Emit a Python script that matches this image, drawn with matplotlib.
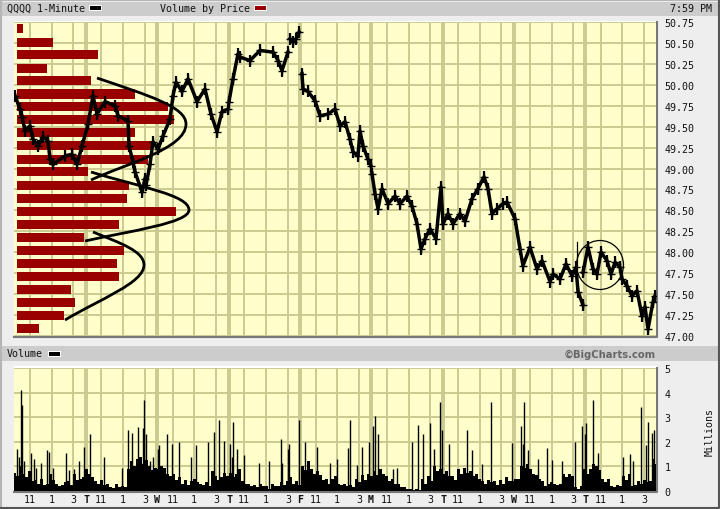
import numpy as np
import matplotlib
matplotlib.use('Agg')
import matplotlib.pyplot as plt
from matplotlib.patches import Rectangle, Ellipse, PathPatch
from matplotlib.path import Path

W, H = 720, 510
MONO = 'DejaVu Sans Mono'

# ---- data (x = chart column) ----
nan = float('nan')
price_col = [15,20,22,25,30,33,38,43,48,50,53,65,72,77,82,88,93,97,105,115,118,128,129,133,135,142,145,
             nan,146,150,153,158,163,170,173,176,182,188,197,205,211,217,222,228,
             nan,229,233,238,240,250,260,273,278,282,288,
             nan,290,293,296,299,
             nan,302,303,308,315,320,328,335,340,345,350,353,358,360,363,368,371,
             nan,372,375,378,382,388,395,400,407,412,417,421,425,430,436,441,443,448,453,460,465,472,478,484,488,492,497,503,507,515,520,523,530,537,542,550,553,560,566,572,576,578,583,
             nan,583,588,593,597,601,607,611,615,620,622,627,632,637,642,645,648,653,655]
price_val = [49.87,49.71,49.62,49.45,49.51,49.35,49.27,49.38,49.33,49.11,49.05,49.15,49.17,49.05,49.27,49.53,49.87,49.65,49.80,49.75,49.63,49.57,49.27,49.08,48.96,48.72,48.88,
             nan,48.80,49.05,49.32,49.23,49.39,49.59,49.87,50.03,49.92,50.07,49.80,49.95,49.65,49.44,49.68,49.71,
             nan,49.80,50.07,50.37,50.33,50.29,50.41,50.39,50.29,50.17,50.39,
             nan,50.55,50.51,50.55,50.63,
             nan,50.13,49.95,49.92,49.81,49.63,49.65,49.71,49.51,49.56,49.35,49.20,49.15,49.45,49.27,49.11,49.03,
             nan,48.94,48.70,48.52,48.76,48.58,48.67,48.58,48.67,48.55,48.34,48.04,48.16,48.28,48.16,48.78,48.34,48.46,48.34,48.46,48.37,48.64,48.76,48.90,48.76,48.46,48.52,48.58,48.60,48.40,48.04,47.84,48.06,47.80,47.90,47.65,47.74,47.68,47.86,47.72,47.82,47.53,47.37,
             nan,47.76,48.06,47.80,47.74,48.00,47.90,47.74,47.88,47.82,47.68,47.60,47.48,47.54,47.24,47.35,47.08,47.41,47.48]

vbp_price = [50.67,50.51,50.36,50.20,50.05,49.89,49.74,49.58,49.43,49.27,49.11,48.96,48.80,48.64,48.49,48.33,48.18,48.02,47.87,47.71,47.56,47.40,47.24,47.09]
vbp_size = [6,36,81,30,74,118,151,157,118,135,131,71,112,110,159,102,67,107,100,102,54,58,47,22]

vol_base = [.75,.6,1.0,.7,.55,.8,.4,.45,.3,.5,.25,.3,.7,.45,.3,.2,.25,.35,.4,.25,.7,.45,.5,.55,
            .9,.7,.55,.4,.3,.45,.25,.3,.15,.12,.3,.18,.22,.15,.9,1.2,1.0,1.3,1.4,1.1,1.25,1.0,.85,.95,
            .9,1.0,.95,.7,.6,.7,.45,.55,.3,.45,.25,.4,.5,.35,.3,.25,.35,.2,.8,.6,.45,.55,.75,.6,
            .75,.55,.7,.9,.4,.3,.3,.2,.25,.15,.3,.2,.2,.1,.3,.2,.2,.35,.25,.4,.55,.3,.4,.25,
            1.0,.85,1.2,.9,.7,.8,.65,.45,.5,.3,.5,.6,.3,.25,.3,.2,.25,.15,.5,.35,.65,.45,.7,.6,
            .8,.65,.9,.7,.6,.4,.5,.3,.3,.15,.15,.1,.1,.05,.1,.05,.5,.3,.6,.4,1.0,.8,.9,.7,
            .8,.6,.6,.45,.9,.7,.95,.75,.8,.6,.7,.5,.4,.3,.45,.35,.4,.25,.45,.3,.55,.4,.4,.5,
            .5,1.0,.95,1.1,.9,.7,.65,.5,.4,.2,.3,.35,.3,.25,.3,.7,.55,.7,.6,.15,.1,.2,.9,.7,
            .9,1.1,1.0,.85,.5,.35,.5,.2,.15,.25,.2,.6,.45,.7,.2,.25,.4,.3,.45,.35,.4,1.3,1.1,1.4]
vol_col = list(range(14, 14 + 3*len(vol_base), 3))
spike_col = [17,19,21,22,24,31,34,36,41,47,49,53,66,69,74,79,84,90,104,122,128,132,138,143,144,146,150,153,158,159,167,172,179,191,196,208,214,219,224,230,
             232,233,237,244,259,269,281,282,288,289,299,305,317,330,337,348,350,357,362,369,373,375,378,393,397,412,418,423,430,434,440,442,449,467,472,482,
             491,512,521,523,524,528,538,547,552,562,575,582,585,586,593,598,623,630,633,641,646,648,652,654]
spike_val = [1.7,1.4,4.1,3.5,1.2,1.55,1.3,.95,1.15,1.65,1.6,.95,1.55,.85,.9,1.2,1.8,2.3,1.4,.95,2.5,2.35,2.6,2.55,3.7,2.3,1.2,1.4,1.7,1.85,2.3,1.9,2.0,1.4,1.85,2.0,2.4,2.9,2.05,1.9,
             1.4,2.8,1.7,1.45,1.15,1.2,2.1,1.15,1.7,1.9,2.9,2.0,1.8,1.15,1.3,1.75,2.9,1.05,1.8,2.0,2.65,3.05,2.3,.9,.95,2.0,2.7,2.3,2.75,1.7,3.6,2.5,1.9,2.5,1.65,1.1,
             3.6,1.95,2.65,1.9,3.6,1.65,1.3,1.75,1.25,1.2,2.0,2.65,2.3,2.75,3.7,1.55,1.4,1.5,1.2,3.4,1.85,2.8,2.35,2.5]

day_open = [86,157,229,300,371,443,514,585]
hour_cols = [30,52,73,101,123,145,173,194,216,244,266,288,316,337,359,387,409,430,458,480,501,530,552,573,601,622,644]
tick_cols = [30,52,73,86,101,123,145,157,173,194,216,229,244,266,288,300,316,337,359,371,387,409,430,443,458,480,501,514,530,552,573,585,601,622,644]
tick_labs = ['11','1','3','T','11','1','3','W','11','1','3','T','11','1','3','F','11','1','3','M','11','1','3','T','11','1','3','W','11','1','3','T','11','1','3']
price_ticks = [47.00,47.25,47.50,47.75,48.00,48.25,48.50,48.75,49.00,49.25,49.50,49.75,50.00,50.25,50.50,50.75]
vol_ticks = [0,1,2,3,4,5]

# ---- colours ----
PAGE, STRIP, PANEL, GRID = '#eeeeee', '#cccccc', '#ffffcc', '#c9c98f'
RED, INK = '#990000', '#000000'
GRID_LW = 1.35

fig = plt.figure(figsize=(W/100, H/100), dpi=100, facecolor=PAGE)

def rect(l, t, r, b):
    return [l/W, 1-b/H, (r-l)/W, (b-t)/H]

# ---- page furniture ----
bg = fig.add_axes([0, 0, 1, 1], zorder=0)
bg.set_xlim(0, W); bg.set_ylim(H, 0); bg.axis('off')
bg.add_patch(Rectangle((2, 3), W-4, 14, fc=STRIP, ec='none'))
bg.add_patch(Rectangle((2, 347), W-4, 15, fc=STRIP, ec='none'))
bg.add_patch(Rectangle((14, 22), 643, 317, fc='#ffffff', ec='none'))
bg.add_patch(Rectangle((14, 367), 643, 127, fc='#ffffff', ec='none'))
bg.plot([0.5, 0.5, W-1], [H-1, 1, 1], color='#b5b5b5', lw=1.5)
bg.plot([1, W-1, W-1], [H-1.5, H-1.5, 1], color='#555555', lw=1.5)
bg.plot([657, 657, 14], [23, 338, 338], color='#777777', lw=1.5)
bg.plot([657, 657, 14], [369, 493, 493], color='#777777', lw=1.5)
for s, x0, y0 in [('QQQQ 1-Minute', 7, 9), ('Volume by Price', 160, 9), ('Volume', 7, 354.5)]:
    bg.text(x0, y0, s, family=MONO, fontsize=7.2, va='center', ha='left', color='#111111')
bg.text(712, 9, '7:59 PM', family=MONO, fontsize=7.2, va='center', ha='right', color='#111111')
bg.text(656, 354.5, '©BigCharts.com', family='DejaVu Sans', weight='bold', fontsize=7.2, va='center', ha='right', color='#666666')
for x0, y0, c in [(89, 9, INK), (254, 9, RED), (48, 354.5, INK)]:
    bg.add_patch(Rectangle((x0, y0-3), 13, 6, fc='white', ec='none'))
    bg.add_patch(Rectangle((x0+1, y0-2), 11, 4, fc=c, ec='none'))

def setup(ax):
    ax.set_facecolor(PANEL)
    ax.set_xlim(14, 656)
    for s in ax.spines.values():
        s.set_visible(False)
    for c in hour_cols:
        ax.axvline(c, color=GRID, lw=GRID_LW, zorder=1)
    for c in day_open:
        ax.axvline(c-1.5, color=GRID, lw=GRID_LW, zorder=1)
        ax.axvline(c+0.5, color=GRID, lw=GRID_LW, zorder=1)
    ax.yaxis.tick_right()
    ax.tick_params(axis='y', length=0, pad=6, labelsize=7.2, labelcolor='#111111')
    for t in ax.get_yticklabels():
        t.set_family(MONO)

# ---- price panel ----
ax = fig.add_axes(rect(14, 23, 656, 337), zorder=1)
ax.set_ylim(47.0, 50.75)
ax.set_yticks(price_ticks)
ax.set_yticklabels([f'{p:.2f}' for p in price_ticks])
setup(ax)
ax.set_xticks([])
for p in price_ticks:
    ax.axhline(p, color=GRID, lw=GRID_LW, zorder=1)
ax.barh(vbp_price, vbp_size, left=17, height=0.108, color=RED, zorder=2)
ax.plot(price_col, price_val, color=INK, lw=2.5, zorder=3, solid_joinstyle='round')
ax.plot(price_col, price_val, ls='none', marker='+', ms=6, mew=1.0, color=INK, zorder=3)
ax.plot(price_col, price_val, ls='none', marker='|', ms=8, mew=1.6, color=INK, zorder=3)

# ---- volume panel ----
av = fig.add_axes(rect(14, 369, 656, 492), zorder=1)
av.set_ylim(0, 5)
av.set_yticks(vol_ticks)
av.set_yticklabels([str(v) for v in vol_ticks])
setup(av)
av.set_xticks(tick_cols)
av.set_xticklabels(tick_labs, family=MONO, fontsize=7.2, color='#111111')
av.tick_params(axis='x', length=0, pad=2)
for lab, s in zip(av.get_xticklabels(), tick_labs):
    if s.isalpha():
        lab.set_fontweight('bold')
for v in vol_ticks:
    av.axhline(v, color=GRID, lw=GRID_LW, zorder=1)
av.bar(vol_col, vol_base, width=3, color=INK, zorder=2)
av.vlines(spike_col, 0, spike_val, color=INK, lw=1.0, zorder=3)

# ---- hand annotations ----
top = fig.add_axes([0, 0, 1, 1], zorder=5)
top.set_xlim(0, W); top.set_ylim(H, 0); top.axis('off'); top.patch.set_alpha(0)
C4 = Path.CURVE4
curves = [
    ([(97,79),(150,97),(186,108),(186,125),(186,150),(125,165),(91,181)], [Path.MOVETO,C4,C4,C4,C4,C4,C4]),
    ([(91,173),(140,188),(189,196),(189,211),(189,224),(130,232),(85,242)], [Path.MOVETO,C4,C4,C4,C4,C4,C4]),
    ([(93,233),(120,244),(144,252),(144,266),(144,284),(100,300),(65,321)], [Path.MOVETO,C4,C4,C4,C4,C4,C4]),
]
for verts, codes in curves:
    top.add_patch(PathPatch(Path(verts, codes), fc='none', ec=INK, lw=2.0))
top.add_patch(Ellipse((600, 266), 47, 49, fc='none', ec=INK, lw=0.9))
top.plot([577, 577], [243, 277], color=INK, lw=0.9)
top.text(710, 432, 'Millions', rotation=90, family=MONO, fontsize=7.2, va='center', ha='center', color='#111111')

fig.savefig('out.png', dpi=100, facecolor=PAGE)
